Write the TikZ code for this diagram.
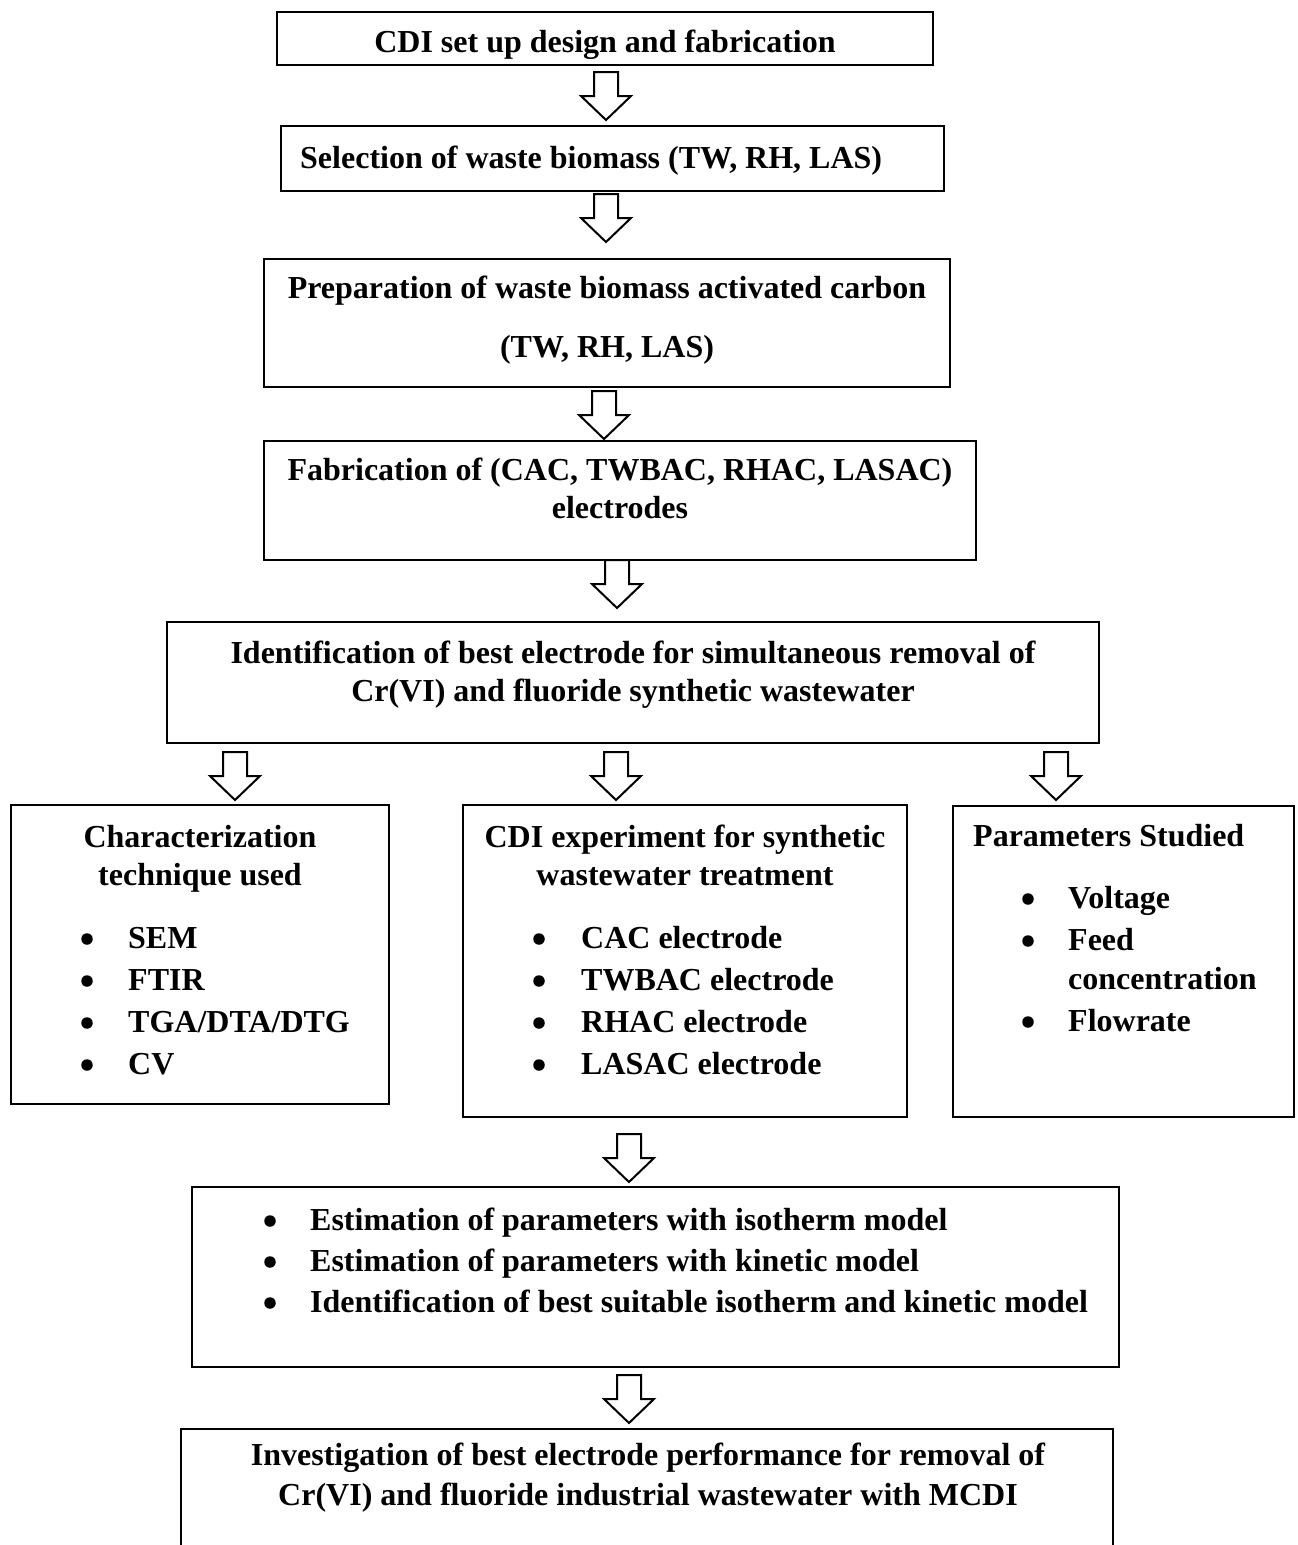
\documentclass[tikz,border=0pt]{standalone}
\usepackage{fontspec}
\setmainfont{Liberation Serif}
\begin{document}
\begin{tikzpicture}[x=1pt,y=-1pt,
  box/.style={draw, line width=2.6pt, inner sep=0pt},
  txt/.style={inner sep=0pt, anchor=base, font=\fontsize{32}{38}\selectfont\bfseries},
  ltxt/.style={txt, anchor=base west},
  bul/.style={circle, fill=black, draw=none, inner sep=0pt, minimum size=11.5},
  barrow/.pic={\draw[line width=2pt, line join=miter, fill=white]
     (-12,0) -- (-12,24) -- (-25,24) -- (0,48) -- (25,24) -- (12,24) -- (12,0) -- cycle;}
]
\clip (0,0) rectangle (1298,1545);
\fill[white] (0,0) rectangle (1298,1545);

% ---------- boxes ----------
\node[box, minimum width=656, minimum height=53]  (b1) at (605,38.5) {};
\node[box, minimum width=663, minimum height=65]  (b2) at (612.5,158.5) {};
\node[box, minimum width=686, minimum height=128] (b3) at (607,323) {};
\node[box, minimum width=712, minimum height=119] (b4) at (620,500.5) {};
\node[box, minimum width=932, minimum height=121] (b5) at (633,682.5) {};
\node[box, minimum width=378, minimum height=299] (b6) at (200,954.5) {};
\node[box, minimum width=444, minimum height=312] (b7) at (685,961) {};
\node[box, minimum width=341, minimum height=311] (b8) at (1123.5,961.5) {};
\node[box, minimum width=927, minimum height=180] (b9) at (655.5,1277) {};
\node[box, minimum width=932, minimum height=240] (b10) at (647,1549) {};

% ---------- texts ----------
\node[txt]  (t1)  at (605,52)  {CDI set up design and fabrication};
\node[ltxt] (t2)  at (300,168) {Selection of waste biomass (TW, RH, LAS)};
\node[txt]  (t3a) at (607,298) {Preparation of waste biomass activated carbon};
\node[txt]  (t3b) at (607,357) {(TW, RH, LAS)};
\node[txt]  (t4a) at (620,480) {Fabrication of (CAC, TWBAC, RHAC, LASAC)};
\node[txt]  (t4b) at (620,518) {electrodes};
\node[txt]  (t5a) at (633,663) {Identification of best electrode for simultaneous removal of};
\node[txt]  (t5b) at (633,701) {Cr(VI) and fluoride synthetic wastewater};

% left box
\node[txt]  (t6a) at (200,847) {Characterization};
\node[txt]  (t6b) at (200,885) {technique used};
\foreach \y/\t [count=\i] in {948/SEM, 990/FTIR, 1032/TGA\slash DTA\slash DTG, 1074/CV}{
  \node[bul]  (d6\i) at (87,\y-9) {};
  \node[ltxt] (i6\i) at (128,\y) {\t};
}

% middle box
\node[txt]  (t7a) at (685,847) {CDI experiment for synthetic};
\node[txt]  (t7b) at (685,885) {wastewater treatment};
\foreach \y/\t [count=\i] in {948/CAC electrode, 990/TWBAC electrode, 1032/RHAC electrode, 1074/LASAC electrode}{
  \node[bul]  (d7\i) at (539,\y-9) {};
  \node[ltxt] (i7\i) at (581,\y) {\t};
}

% right box
\node[ltxt] (t8a) at (973,846) {Parameters Studied};
\node[bul]  (d81) at (1028,899)  {};
\node[ltxt] (i81) at (1068,908)  {Voltage};
\node[bul]  (d82) at (1028,941)  {};
\node[ltxt] (i82) at (1068,950)  {Feed};
\node[ltxt] (i82b) at (1068,989) {concentration};
\node[bul]  (d83) at (1028,1022) {};
\node[ltxt] (i83) at (1068,1031) {Flowrate};

% model box
\foreach \y/\t [count=\i] in {1230/Estimation of parameters with isotherm model,
  1271/Estimation of parameters with kinetic model,
  1312/Identification of best suitable isotherm and kinetic model}{
  \node[bul]  (d9\i) at (270,\y-9) {};
  \node[ltxt] (i9\i) at (310,\y) {\t};
}

% last box
\node[txt] (t10a) at (648,1465) {Investigation of best electrode performance for removal of};
\node[txt] (t10b) at (648,1505) {Cr(VI) and fluoride industrial wastewater with MCDI};

% ---------- block arrows ----------
\coordinate (a1)  at (606,72);
\coordinate (a2)  at (606,194);
\coordinate (a3)  at (604,391);
\coordinate (a4)  at (617,560);
\coordinate (a5l) at (235,752);
\coordinate (a5m) at (616,752);
\coordinate (a5r) at (1056,752);
\coordinate (a6)  at (629,1134);
\coordinate (a7)  at (629,1375);
\foreach \c in {a1,a2,a3,a4,a5l,a5m,a5r,a6,a7}{
  \pic at (\c) {barrow};
}
\end{tikzpicture}
\end{document}
